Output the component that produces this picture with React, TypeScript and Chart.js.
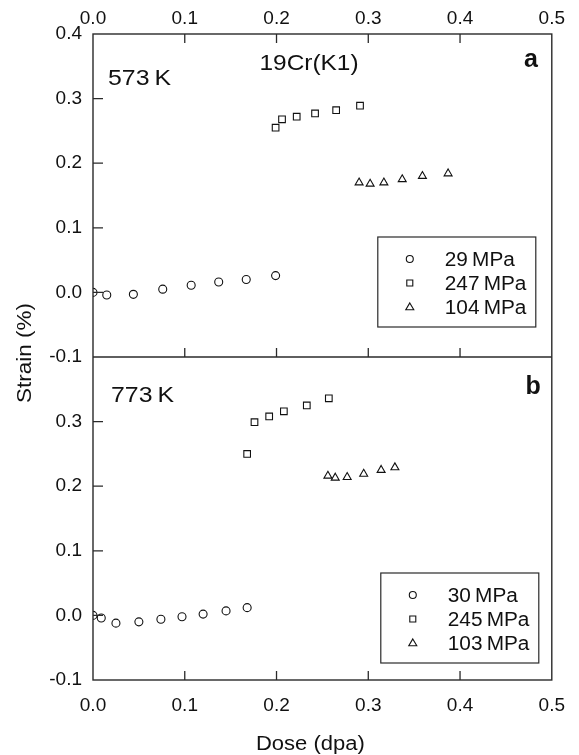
import React, { useEffect, useRef } from 'react';
import { Chart, registerables } from 'chart.js';

Chart.register(...registerables);

// ---- data ----
const doseTicks = [0, 0.1, 0.2, 0.3, 0.4, 0.5];
const strainTicks = [-0.1, 0, 0.1, 0.2, 0.3, 0.4];

// panel a : 573 K
const doseA29 = [0, 0.015, 0.044, 0.076, 0.107, 0.137, 0.167, 0.199];
const strainA29 = [0.0, -0.004, -0.003, 0.005, 0.011, 0.016, 0.02, 0.026];
const doseA247 = [0.199, 0.206, 0.222, 0.242, 0.265, 0.291];
const strainA247 = [0.255, 0.268, 0.272, 0.277, 0.282, 0.289];
const doseA104 = [0.29, 0.302, 0.317, 0.337, 0.359, 0.387];
const strainA104 = [0.17, 0.168, 0.17, 0.175, 0.18, 0.184];

// panel b : 773 K
const doseB30 = [0, 0.009, 0.025, 0.05, 0.074, 0.097, 0.12, 0.145, 0.168];
const strainB30 = [0.0, -0.004, -0.012, -0.01, -0.006, -0.002, 0.002, 0.007, 0.012];
const doseB245 = [0.168, 0.176, 0.192, 0.208, 0.233, 0.257];
const strainB245 = [0.25, 0.299, 0.308, 0.316, 0.325, 0.336];
const doseB103 = [0.256, 0.264, 0.277, 0.295, 0.314, 0.329];
const strainB103 = [0.216, 0.213, 0.214, 0.219, 0.225, 0.229];

const legendA = ['29\u2009MPa', '247\u2009MPa', '104\u2009MPa'];
const legendB = ['30\u2009MPa', '245\u2009MPa', '103\u2009MPa'];
const markerStyles = ['circle', 'rect', 'triangle'];
const panelTemps = ['573\u2009K', '773\u2009K'];
const panelLetters = ['a', 'b'];
const materialLabel = '19Cr(K1)';
const xTitle = 'Dose (dpa)';
const yTitle = 'Strain (%)';

const FONT = '"Liberation Sans", Arial, Helvetica, sans-serif';
const INK = '#111';
const LINE = '#2a2a2a';

const pts = (xs: number[], ys: number[]) => xs.map((x, i) => ({ x, y: ys[i] }));

function textX(ctx: CanvasRenderingContext2D, text: string, x: number, y: number, sx: number) {
  ctx.save();
  ctx.translate(x, y);
  ctx.scale(sx, 1);
  ctx.fillText(text, 0, 0);
  ctx.restore();
}

function drawMarker(ctx: CanvasRenderingContext2D, style: string, x: number, y: number, r: number) {
  ctx.beginPath();
  if (style === 'circle') {
    ctx.arc(x, y, r, 0, Math.PI * 2);
  } else if (style === 'rect') {
    ctx.rect(x - r, y - r, 2 * r, 2 * r);
  } else {
    const h = r * 1.7;
    ctx.moveTo(x, y - h * 0.6);
    ctx.lineTo(x + r, y + h * 0.4);
    ctx.lineTo(x - r, y + h * 0.4);
    ctx.closePath();
  }
  ctx.stroke();
}

function drawLegend(
  ctx: CanvasRenderingContext2D,
  boxLeft: number,
  boxTop: number,
  labels: string[]
) {
  const w = 158;
  const h = 90;
  ctx.save();
  ctx.fillStyle = '#fff';
  ctx.fillRect(boxLeft, boxTop, w, h);
  ctx.strokeStyle = LINE;
  ctx.lineWidth = 1.2;
  ctx.strokeRect(boxLeft, boxTop, w, h);
  ctx.font = `20px ${FONT}`;
  ctx.textBaseline = 'middle';
  ctx.textAlign = 'left';
  ctx.fillStyle = INK;
  labels.forEach((lab, i) => {
    const cy = boxTop + 22 + i * 24;
    ctx.lineWidth = 1.1;
    ctx.strokeStyle = INK;
    const r = markerStyles[i] === 'circle' ? 3.5 : markerStyles[i] === 'rect' ? 3 : 4;
    drawMarker(ctx, markerStyles[i], boxLeft + 32, cy, r);
    textX(ctx, lab, boxLeft + 67, cy + 1, 1.04);
  });
  ctx.restore();
}

const framePlugin = {
  id: 'framePlugin',
  afterDraw(chart: any) {
    const ctx: CanvasRenderingContext2D = chart.ctx;
    const { left, right, top, bottom } = chart.chartArea;
    const xs = chart.scales.x;
    const yA = chart.scales.yA;
    const yB = chart.scales.yB;
    const mid = yA.bottom;
    ctx.save();
    ctx.strokeStyle = LINE;
    ctx.lineWidth = 1.4;
    ctx.strokeRect(left, top, right - left, bottom - top);
    ctx.beginPath();
    ctx.moveTo(left, mid);
    ctx.lineTo(right, mid);
    ctx.stroke();

    // inward ticks
    ctx.lineWidth = 1.3;
    ctx.beginPath();
    doseTicks.forEach((v) => {
      if (v <= 0 || v >= 0.5) return;
      const px = xs.getPixelForValue(v);
      ctx.moveTo(px, top);
      ctx.lineTo(px, top + 9);
      ctx.moveTo(px, mid);
      ctx.lineTo(px, mid - 9);
      ctx.moveTo(px, bottom);
      ctx.lineTo(px, bottom - 9);
    });
    strainTicks.forEach((v) => {
      if (v <= -0.1 || v >= 0.4) return;
      const pa = yA.getPixelForValue(v);
      const pb = yB.getPixelForValue(v);
      ctx.moveTo(left, pa);
      ctx.lineTo(left + 10, pa);
      ctx.moveTo(left, pb);
      ctx.lineTo(left + 10, pb);
    });
    ctx.stroke();

    // annotations
    ctx.fillStyle = INK;
    ctx.textBaseline = 'alphabetic';
    ctx.font = `22px ${FONT}`;
    ctx.textAlign = 'left';
    textX(ctx, panelTemps[0], left + 15, yA.top + 51, 1.13);
    textX(ctx, panelTemps[1], left + 18, yB.top + 45, 1.13);
    ctx.textAlign = 'center';
    ctx.font = `22px ${FONT}`;
    textX(ctx, materialLabel, 309, yA.top + 36, 1.11);
    ctx.font = `bold 25px ${FONT}`;
    ctx.textAlign = 'right';
    ctx.fillText(panelLetters[0], right - 14, yA.top + 33);
    ctx.fillText(panelLetters[1], right - 11, yB.top + 37);

    // axis titles
    ctx.font = `20px ${FONT}`;
    ctx.textAlign = 'center';
    ctx.textBaseline = 'middle';
    textX(ctx, xTitle, (left + right) / 2 - 12, 744, 1.1);
    ctx.save();
    ctx.translate(25, 353);
    ctx.rotate(-Math.PI / 2);
    ctx.font = `21px ${FONT}`;
    textX(ctx, yTitle, 0, 0, 1.07);
    ctx.restore();

    // legends
    drawLegend(ctx, right - 174, mid - 120, legendA);
    drawLegend(ctx, right - 171, bottom - 107, legendB);
    ctx.restore();
  },
};

const tickFont = { family: FONT, size: 19 };
const fmt = (v: any) => Number(v).toFixed(1);

export default function App() {
  const ref = useRef<HTMLCanvasElement | null>(null);

  useEffect(() => {
    if (!ref.current) return;
    const mk = (label: string, xs: number[], ys: number[], style: string, yAxisID: string, r: number) => ({
      label,
      data: pts(xs, ys),
      pointStyle: style,
      pointRadius: r,
      pointBorderWidth: 1.1,
      pointBorderColor: INK,
      pointBackgroundColor: 'rgba(0,0,0,0)',
      borderColor: INK,
      backgroundColor: 'rgba(0,0,0,0)',
      showLine: false,
      xAxisID: 'x',
      yAxisID,
    });
    const chart = new Chart(ref.current, {
      type: 'scatter',
      data: {
        datasets: [
          mk(legendA[0], doseA29, strainA29, 'circle', 'yA', 4),
          mk(legendA[1], doseA247, strainA247, 'rect', 'yA', 4.7),
          mk(legendA[2], doseA104, strainA104, 'triangle', 'yA', 4.6),
          mk(legendB[0], doseB30, strainB30, 'circle', 'yB', 4),
          mk(legendB[1], doseB245, strainB245, 'rect', 'yB', 4.7),
          mk(legendB[2], doseB103, strainB103, 'triangle', 'yB', 4.6),
        ] as any,
      },
      options: {
        animation: false,
        responsive: true,
        maintainAspectRatio: false,
        layout: { padding: { left: 0, right: 22, top: 0, bottom: 0 } },
        plugins: { legend: { display: false }, tooltip: { enabled: false } },
        scales: {
          x: {
            type: 'linear',
            position: 'bottom',
            min: 0,
            max: 0.5,
            grid: { display: false, drawTicks: false },
            border: { display: false },
            ticks: { stepSize: 0.1, callback: fmt, font: tickFont, color: INK, padding: 14, maxRotation: 0 },
            afterFit: (s: any) => { s.height = 75; },
          },
          x2: {
            type: 'linear',
            position: 'top',
            min: 0,
            max: 0.5,
            grid: { display: false, drawTicks: false },
            border: { display: false },
            ticks: { stepSize: 0.1, callback: fmt, font: tickFont, color: INK, padding: 4, maxRotation: 0 },
            afterFit: (s: any) => { s.height = 34; },
          },
          // bottom panel (773 K) — defined first so it sits below in the stack
          yB: {
            type: 'linear',
            position: 'left',
            stack: 'strain',
            stackWeight: 1,
            min: -0.1,
            max: 0.4,
            grid: { display: false, drawTicks: false },
            border: { display: false },
            ticks: {
              stepSize: 0.1,
              callback: (v: any) => (Number(v) > 0.35 ? '' : fmt(v)),
              font: tickFont,
              color: INK,
              padding: 11,
            },
            afterFit: (s: any) => { s.width = 93; },
          },
          // top panel (573 K)
          yA: {
            type: 'linear',
            position: 'left',
            stack: 'strain',
            stackWeight: 1,
            min: -0.1,
            max: 0.4,
            grid: { display: false, drawTicks: false },
            border: { display: false },
            ticks: { stepSize: 0.1, callback: fmt, font: tickFont, color: INK, padding: 11 },
            afterFit: (s: any) => { s.width = 93; },
          },
        } as any,
      },
      plugins: [framePlugin],
    });
    return () => chart.destroy();
  }, []);

  return (
    <div style={{ position: 'absolute', left: 0, top: 0, width: 579, height: 755, background: '#fff' }}>
      <canvas ref={ref} />
    </div>
  );
}
